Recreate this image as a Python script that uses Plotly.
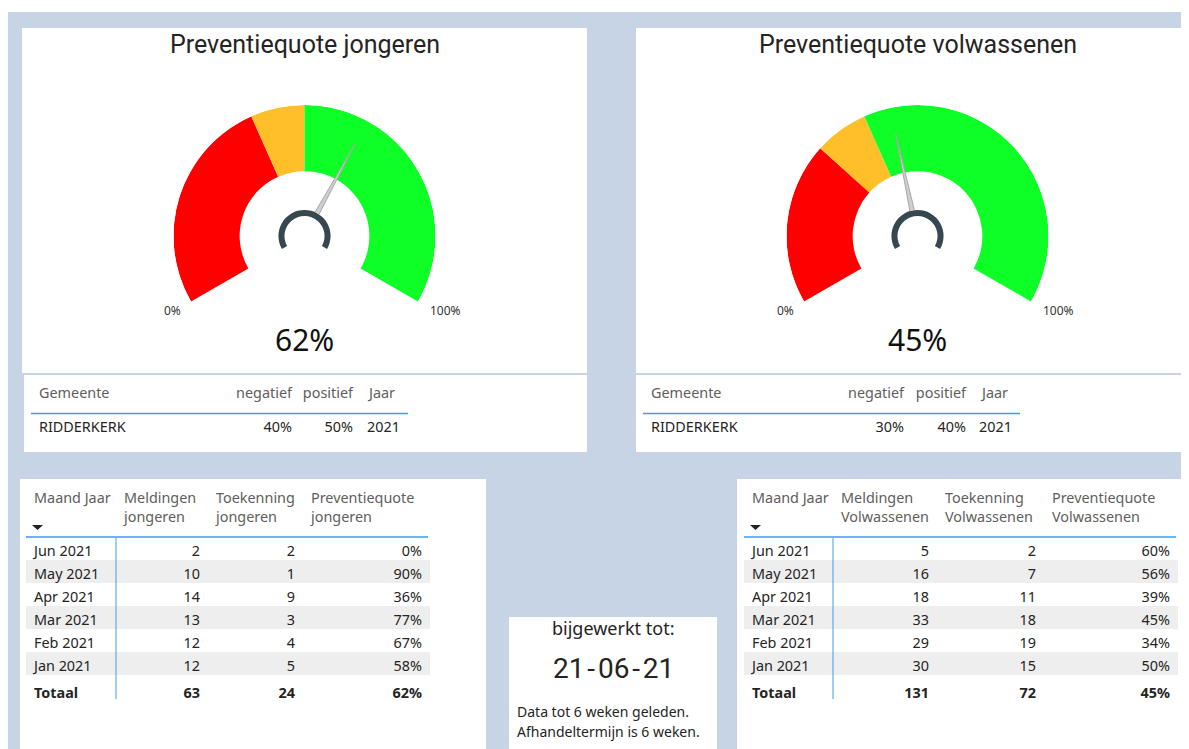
import plotly.graph_objects as go

# page is 1189x749; the html body has an 8px margin, so the figure starts at (8, 8)
OFF = 8
W, H = 1189 - OFF, 749 - OFF

# ---------------- data ----------------
gauge_titles = ["Preventiequote jongeren", "Preventiequote volwassenen"]
gauge_values = [62, 45]            # % preventiequote (needle)
negatief = [40, 30]                # red band ends here
positief = [50, 40]                # green band starts here
jaar = [2021, 2021]
gemeente = ["RIDDERKERK", "RIDDERKERK"]
band_colors = ["#FF0000", "#FFBF29", "#0DFF26"]

months = ["Jun 2021", "May 2021", "Apr 2021", "Mar 2021", "Feb 2021", "Jan 2021"]
meldingen_jongeren = [2, 10, 14, 13, 12, 12]
toekenning_jongeren = [2, 1, 9, 3, 4, 5]
quote_jongeren = [0, 90, 36, 77, 67, 58]
totaal_jongeren = [63, 24, 62]
meldingen_volw = [5, 16, 18, 33, 29, 30]
toekenning_volw = [2, 7, 11, 18, 19, 15]
quote_volw = [60, 56, 39, 45, 34, 50]
totaal_volw = [131, 72, 45]

update_label = "bijgewerkt tot:"
update_date = "21-06-21"
note_lines = ["Data tot 6 weken geleden.", "Afhandeltermijn is 6 weken."]

# ---------------- style ----------------
FONT = "Noto Sans"
TFONT = "Roboto"
BG = "#C6D4E6"
TXT = "#252423"
HDR = "#605E5C"
BLUE = "#3D9BF3"
SPAN = 240.0
INNER = 0.495
FS = 14.4


def X(px):
    return (px - OFF) / W


def Y(py):
    return 1 - (py - OFF) / H


fig = go.Figure()
shapes = []
annotations = []

# canvas + panels
shapes.append(dict(type="rect", xref="paper", yref="paper", x0=X(8), x1=1.0, y0=0, y1=Y(12),
                   fillcolor=BG, line_width=0, layer="below"))
panels = [(22, 28, 587, 373), (24, 375, 587, 452), (636, 28, 1189, 373), (636, 375, 1189, 452),
          (20, 479, 486, 749), (509, 617, 717, 749), (737, 479, 1189, 749)]
for x0, y0, x1, y1 in panels:
    shapes.append(dict(type="rect", xref="paper", yref="paper", x0=X(x0), x1=X(x1), y0=Y(y1), y1=Y(y0),
                       fillcolor="white", line_width=0, layer="below"))

# ---------------- gauges ----------------
centers = [(304.5, 236), (917.5, 236)]
R = 131
polar_layout = {}
for i in range(2):
    cx, cy = centers[i]
    name = "polar" if i == 0 else "polar2"
    starts = [0, negatief[i], positief[i]]
    ends = [negatief[i], positief[i], 100]
    fig.add_trace(go.Barpolar(
        r=[1 - INNER] * 3, base=[INNER] * 3,
        theta=[(s + e) / 2 * SPAN / 100 for s, e in zip(starts, ends)],
        width=[(e - s) * SPAN / 100 for s, e in zip(starts, ends)],
        marker=dict(color=band_colors, line=dict(width=0)),
        subplot=name, hoverinfo="skip", showlegend=False))
    # needle
    th = gauge_values[i] * SPAN / 100
    fig.add_trace(go.Scatterpolar(
        r=[0.2, 0.80, 0.2], theta=[th - 5, th, th + 5], mode="lines", fill="toself",
        fillcolor="#CFCFCF", line=dict(color="#A6A6A6", width=1),
        subplot=name, hoverinfo="skip", showlegend=False))
    # hub ring
    fig.add_trace(go.Barpolar(
        r=[0.046], base=[0.153], theta=[SPAN / 2], width=[SPAN],
        marker=dict(color="#37474F", line=dict(width=0)),
        subplot=name, hoverinfo="skip", showlegend=False))
    polar_layout[name] = dict(
        domain=dict(x=[X(cx - R), X(cx + R)], y=[Y(cy + R), Y(cy - R)]),
        bgcolor="rgba(0,0,0,0)", hole=0,
        radialaxis=dict(range=[0, 1], visible=False),
        angularaxis=dict(rotation=210, direction="clockwise", visible=False),
    )
    # titles and labels
    annotations.append(dict(text=gauge_titles[i], x=X(cx), y=Y(44), xref="paper", yref="paper",
                            showarrow=False, font=dict(family=TFONT, size=25, color=TXT),
                            xanchor="center", yanchor="middle"))
    annotations.append(dict(text="0%", x=X(cx - 132.5), y=Y(310), xref="paper", yref="paper",
                            showarrow=False, font=dict(family=FONT, size=12, color="#333333"),
                            xanchor="center", yanchor="middle"))
    annotations.append(dict(text="100%", x=X(cx + 140.5), y=Y(310), xref="paper", yref="paper",
                            showarrow=False, font=dict(family=FONT, size=12, color="#333333"),
                            xanchor="center", yanchor="middle"))
    annotations.append(dict(text=f"{gauge_values[i]}%", x=X(cx), y=Y(339), xref="paper", yref="paper",
                            showarrow=False, font=dict(family=FONT, size=30, color="#111111"),
                            xanchor="center", yanchor="middle"))

# ---------------- gemeente tables ----------------
gem_boxes = [(31, 408, [200, 69, 61, 47]), (643, 1020, [200, 69, 62, 46])]
for i in range(2):
    x0, x1, cw = gem_boxes[i]
    fig.add_trace(go.Table(
        domain=dict(x=[X(x0), X(x1)], y=[Y(446), Y(379)]),
        columnwidth=cw,
        header=dict(values=["Gemeente", "negatief", "positief", "Jaar"],
                    align=["left", "right", "right", "left"], height=34,
                    fill_color="rgba(0,0,0,0)", line_color="rgba(0,0,0,0)",
                    font=dict(family=FONT, size=FS, color=HDR)),
        cells=dict(values=[[gemeente[i]], [f"{negatief[i]}%"], [f"{positief[i]}%"], [str(jaar[i])]],
                   align=["left", "right", "right", "right"], height=28,
                   fill_color="rgba(0,0,0,0)", line_color="rgba(0,0,0,0)",
                   font=dict(family=FONT, size=FS, color=TXT))))
    shapes.append(dict(type="line", xref="paper", yref="paper", x0=X(x0), x1=X(x1), y0=Y(413.5), y1=Y(413.5),
                       line=dict(color=BLUE, width=1.5), layer="above"))

# ---------------- monthly tables ----------------
row_fill = ["rgba(0,0,0,0)" if k % 2 == 0 else "#EEEEEE" for k in range(len(months))] + ["rgba(0,0,0,0)"]
month_tables = [
    (26, 430, [90, 92, 95, 127], ["Maand\u00a0Jaar<br>\u00a0", "Meldingen<br>jongeren", "Toekenning<br>jongeren", "Preventiequote<br>jongeren"],
     meldingen_jongeren, toekenning_jongeren, quote_jongeren, totaal_jongeren),
    (744, 1178, [89, 104, 107, 134], ["Maand\u00a0Jaar<br>\u00a0", "Meldingen<br>Volwassenen", "Toekenning<br>Volwassenen", "Preventiequote<br>Volwassenen"],
     meldingen_volw, toekenning_volw, quote_volw, totaal_volw),
]
for x0, x1, cw, hdrs, meld, toek, quote, tot in month_tables:
    fig.add_trace(go.Table(
        domain=dict(x=[X(x0), X(x1)], y=[Y(705), Y(480)]),
        columnwidth=cw,
        header=dict(values=hdrs, align="left", height=57,
                    fill_color="rgba(0,0,0,0)", line_color="rgba(0,0,0,0)",
                    font=dict(family=FONT, size=FS, color=HDR)),
        cells=dict(values=[months + ["<b>Totaal</b>"],
                           [str(v) for v in meld] + [f"<b>{tot[0]}</b>"],
                           [str(v) for v in toek] + [f"<b>{tot[1]}</b>"],
                           [f"{v}%" for v in quote] + [f"<b>{tot[2]}%</b>"]],
                   align=["left", "right", "right", "right"], height=23,
                   fill_color=[row_fill] * 4, line_color="rgba(0,0,0,0)",
                   font=dict(family=FONT, size=FS, color=TXT))))
    vx = x0 + cw[0]
    shapes.append(dict(type="line", xref="paper", yref="paper", x0=X(x0), x1=X(x1 - 2), y0=Y(537), y1=Y(537),
                       line=dict(color=BLUE, width=1.5), layer="above"))
    shapes.append(dict(type="line", xref="paper", yref="paper", x0=X(vx), x1=X(vx), y0=Y(538), y1=Y(699),
                       line=dict(color=BLUE, width=1), layer="above"))
    # sort arrow
    ax = x0 + 6
    shapes.append(dict(type="path", xref="paper", yref="paper",
                       path=f"M {X(ax)},{Y(525)} L {X(ax + 11)},{Y(525)} L {X(ax + 5.5)},{Y(530)} Z",
                       fillcolor="#252423", line_width=0, layer="above"))

# ---------------- update card ----------------
annotations.append(dict(text=update_label, x=X(613), y=Y(628), xref="paper", yref="paper", showarrow=False,
                        font=dict(family=FONT, size=18, color=TXT), xanchor="center", yanchor="middle"))
annotations.append(dict(text=update_date.replace("-", "\u200a-\u200a"), x=X(613), y=Y(668), xref="paper", yref="paper",
                        showarrow=False, font=dict(family=TFONT, size=28, color=TXT),
                        xanchor="center", yanchor="middle"))
for k, line in enumerate(note_lines):
    annotations.append(dict(text=line, x=X(515), y=Y(711 + 20 * k), xref="paper", yref="paper", showarrow=False,
                            font=dict(family=FONT, size=14, color=TXT), xanchor="left", yanchor="middle"))

fig.update_layout(width=W, height=H, margin=dict(l=0, r=0, t=0, b=0),
                  paper_bgcolor="white", plot_bgcolor="white", showlegend=False,
                  shapes=shapes, annotations=annotations, **polar_layout)
fig.write_html("out.html")
